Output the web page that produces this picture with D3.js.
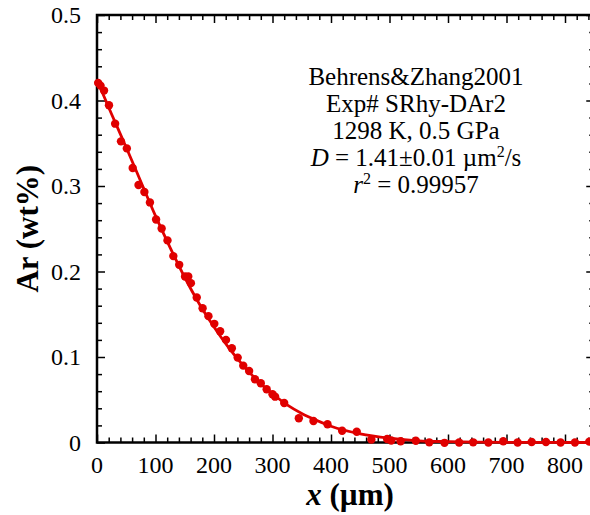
<!DOCTYPE html>
<html>
<head>
<meta charset="utf-8">
<script src="https://cdn.jsdelivr.net/npm/d3@7"></script>
<style>
  body { margin: 0; background: #fff; }
  text { font-family: "Liberation Serif", "Times New Roman", serif; }
</style>
</head>
<body>
<div id="chart"></div>
<script>
// measured points (x in µm, Ar in wt%)
var xData = [2, 6, 12, 20.5, 31, 41, 51, 61, 71, 81, 90.5, 101, 110.5, 120.5, 130.5, 140.5, 150.5, 156, 160.5,
    170.5, 180.5, 190.5, 200.5, 210.5, 220.5, 230.5, 240.5, 250, 260, 270, 280, 290, 300, 304.5, 320,
    345, 370, 394, 419, 444, 469, 496, 503, 519, 545, 568, 594, 619, 643, 669, 694.5, 719, 743, 767.5, 792.5, 817, 841.5];
var arData = [0.4206, 0.4174, 0.4116, 0.3944, 0.3729, 0.3522, 0.344, 0.3211, 0.3012, 0.293, 0.2808, 0.2609, 0.2503, 0.2364,
    0.218, 0.2078, 0.1941, 0.1941, 0.1864, 0.1696, 0.1571, 0.1478, 0.1388, 0.1302, 0.12, 0.1103, 0.0993, 0.0899,
    0.0837, 0.074, 0.0693, 0.0623, 0.0564, 0.0536, 0.0462, 0.0283, 0.0252, 0.0213, 0.0138, 0.0126, 0.0035, 0.0041,
    0.0023, 0.0015, 0.0021, 0.0002, -0.0004, 0, 0.0002, 0, 0.0014, 0, 0.0006, 0.0006, 0, 0, 0.001];

// fitted curve
var fitX = [0, 25, 50, 75, 100, 125, 150, 175, 200, 225, 250, 275, 300, 325, 350, 375, 400, 450, 500, 550, 600, 650, 700, 850];
var fitAr = [0.424, 0.384, 0.345, 0.305, 0.265, 0.228, 0.193, 0.162, 0.135, 0.111, 0.09, 0.072, 0.057, 0.044, 0.034,
    0.026, 0.019, 0.01, 0.005, 0.002, 0.001, 0.0004, 0.0001, 0];

var xTicks = [0, 100, 200, 300, 400, 500, 600, 700, 800];
var yTicks = [0, 0.1, 0.2, 0.3, 0.4, 0.5];

var notes = ["Behrens&Zhang2001", "Exp# SRhy-DAr2", "1298 K, 0.5 GPa"];

var red = "#e00000";

var svg = d3.select("#chart")
    .append("svg")
    .attr("width", 590)
    .attr("height", 515);

var pLeft = 97, pRight = 594.25, pTop = 15, pBottom = 442.5;

var x = d3.scaleLinear().domain([0, 850]).range([pLeft, pRight]);
var y = d3.scaleLinear().domain([0, 0.5]).range([pBottom, pTop]);

var minorX = d3.range(0, 851, 20).filter(function (d) { return d % 100 != 0; });
var minorY = d3.range(0, 0.5001, 0.02).map(function (d) { return +d.toFixed(2); })
    .filter(function (d) { return Math.round(d * 100) % 10 != 0; });

// ticks pointing inward on all four sides
function addAxis(axis, transform) {
    svg.append("g")
        .attr("transform", transform)
        .call(axis)
        .call(function (g) { g.select(".domain").remove(); })
        .selectAll("line").attr("stroke", "#000").attr("stroke-width", 1.5);
}
addAxis(d3.axisTop(x).tickValues(xTicks).tickSize(8).tickFormat(""), "translate(0," + pBottom + ")");
addAxis(d3.axisTop(x).tickValues(minorX).tickSize(5).tickFormat(""), "translate(0," + pBottom + ")");
addAxis(d3.axisBottom(x).tickValues(xTicks).tickSize(8).tickFormat(""), "translate(0," + pTop + ")");
addAxis(d3.axisBottom(x).tickValues(minorX).tickSize(5).tickFormat(""), "translate(0," + pTop + ")");
addAxis(d3.axisRight(y).tickValues(yTicks).tickSize(8).tickFormat(""), "translate(" + pLeft + ",0)");
addAxis(d3.axisRight(y).tickValues(minorY).tickSize(5).tickFormat(""), "translate(" + pLeft + ",0)");
addAxis(d3.axisLeft(y).tickValues(yTicks).tickSize(8).tickFormat(""), "translate(" + pRight + ",0)");
addAxis(d3.axisLeft(y).tickValues(minorY).tickSize(5).tickFormat(""), "translate(" + pRight + ",0)");

// tick labels
svg.append("g").selectAll("text")
    .data(xTicks).enter().append("text")
    .attr("x", function (d) { return x(d); })
    .attr("y", pBottom + 30)
    .attr("text-anchor", "middle")
    .attr("font-size", 24)
    .text(function (d) { return d; });

svg.append("g").selectAll("text")
    .data(yTicks).enter().append("text")
    .attr("x", pLeft - 16)
    .attr("y", function (d) { return y(d) + 8; })
    .attr("text-anchor", "end")
    .attr("font-size", 24)
    .text(function (d) { return d; });

// frame
svg.append("rect")
    .attr("x", pLeft).attr("y", pTop)
    .attr("width", pRight - pLeft).attr("height", pBottom - pTop)
    .attr("fill", "none").attr("stroke", "#000").attr("stroke-width", 2.5);

// fit line
var line = d3.line()
    .x(function (d, i) { return x(fitX[i]); })
    .y(function (d, i) { return y(fitAr[i]); })
    .curve(d3.curveMonotoneX);

svg.append("path")
    .datum(fitX)
    .attr("d", line)
    .attr("fill", "none")
    .attr("stroke", red)
    .attr("stroke-width", 2.8);

svg.append("g").selectAll("circle")
    .data(xData).enter().append("circle")
    .attr("cx", function (d) { return x(d); })
    .attr("cy", function (d, i) { return y(arData[i]); })
    .attr("r", 4.2)
    .attr("fill", red);

// axis titles
svg.append("text")
    .attr("transform", "translate(38," + ((pTop + pBottom) / 2) + ") rotate(-90)")
    .attr("text-anchor", "middle")
    .attr("font-size", 31)
    .attr("font-weight", "bold")
    .text("Ar (wt%)");

var xt = svg.append("text")
    .attr("x", 350)
    .attr("y", 505)
    .attr("text-anchor", "middle")
    .attr("font-size", 31)
    .attr("font-weight", "bold");
xt.append("tspan").attr("font-style", "italic").text("x");
xt.append("tspan").text(" (µm)");

// annotation
var cx = 416;
svg.append("g").selectAll("text")
    .data(notes).enter().append("text")
    .attr("x", cx)
    .attr("y", function (d, i) { return 85 + i * 27; })
    .attr("text-anchor", "middle")
    .attr("font-size", 25)
    .text(function (d) { return d; });

var dt = svg.append("text").attr("x", cx).attr("y", 166).attr("text-anchor", "middle").attr("font-size", 25);
dt.append("tspan").attr("font-style", "italic").text("D");
dt.append("tspan").text(" = 1.41±0.01 µm");
dt.append("tspan").attr("font-size", 16).attr("dy", -9).text("2");
dt.append("tspan").attr("dy", 9).text("/s");

var rt = svg.append("text").attr("x", cx).attr("y", 193).attr("text-anchor", "middle").attr("font-size", 25);
rt.append("tspan").attr("font-style", "italic").text("r");
rt.append("tspan").attr("font-size", 16).attr("dy", -9).text("2");
rt.append("tspan").attr("dy", 9).text(" = 0.99957");
</script>
</body>
</html>
